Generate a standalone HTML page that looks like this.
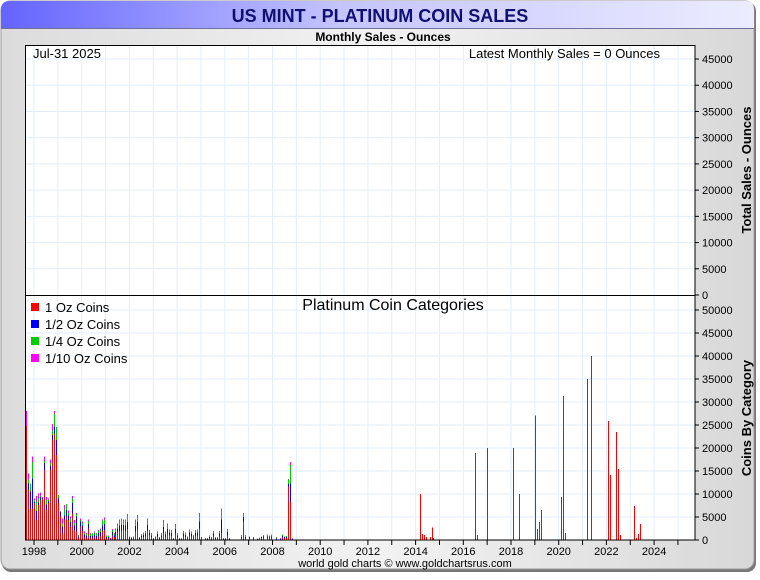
<!DOCTYPE html>
<html><head><meta charset="utf-8">
<style>
body{margin:0;width:760px;height:575px;overflow:hidden;background:#fff;font-family:"Liberation Sans",sans-serif;}
</style></head>
<body>
<svg id="chart" width="760" height="575" xmlns="http://www.w3.org/2000/svg" font-family="Liberation Sans, sans-serif">
<defs>
<linearGradient id="bg" x1="0" x2="1" y1="0" y2="0"><stop offset="0" stop-color="#dcdcdc"/><stop offset="0.5" stop-color="#f2f2f2"/><stop offset="1" stop-color="#d8d8d8"/></linearGradient>
<linearGradient id="tb" x1="0" x2="1" y1="0" y2="0"><stop offset="0" stop-color="#6464ff"/><stop offset="0.45" stop-color="#c4c4ff"/><stop offset="1" stop-color="#ececff"/></linearGradient>
</defs>
<rect x="2" y="2" width="754" height="570" rx="9" fill="#777"/>
<rect x="1" y="1" width="753" height="568" rx="9" fill="url(#bg)" stroke="#9a9a9a"/>
<path d="M1,28 L1,10 Q1,1 10,1 L745,1 Q754,1 754,10 L754,28 Z" fill="url(#tb)"/>
<line x1="1" y1="28.5" x2="754" y2="28.5" stroke="#7070a0"/>
<text x="380" y="22" text-anchor="middle" font-size="18" font-weight="bold" fill="#101070">US MINT - PLATINUM COIN SALES</text>
<text x="383" y="41" text-anchor="middle" font-size="12" font-weight="bold" fill="#000">Monthly Sales - Ounces</text>
<rect x="25" y="45" width="670" height="495" fill="#fff"/>
<g id="grid"></g>
<g id="bars" shape-rendering="crispEdges"></g>
<rect x="25.5" y="45.5" width="669.5" height="494.5" fill="none" stroke="#000"/>
<line x1="25" y1="295.5" x2="695" y2="295.5" stroke="#000"/>
<g id="axes"></g>
<text x="33" y="58" font-size="13">Jul-31  2025</text>
<text x="660" y="58" text-anchor="end" font-size="13">Latest Monthly Sales = 0 Ounces</text>
<text x="393" y="310" text-anchor="middle" font-size="16">Platinum Coin Categories</text>
<g>
<rect x="31" y="303" width="8" height="8" fill="#f00"/><text x="45" y="312" font-size="13">1 Oz Coins</text>
<rect x="31" y="320" width="8" height="8" fill="#00f"/><text x="45" y="329" font-size="13">1/2 Oz Coins</text>
<rect x="31" y="337" width="8" height="8" fill="#0c0"/><text x="45" y="346" font-size="13">1/4 Oz Coins</text>
<rect x="31" y="354" width="8" height="8" fill="#f0f"/><text x="45" y="363" font-size="13">1/10 Oz Coins</text>
</g>
<text transform="translate(751,170) rotate(-90)" text-anchor="middle" font-size="13" font-weight="bold">Total Sales - Ounces</text>
<text transform="translate(751,418) rotate(-90)" text-anchor="middle" font-size="13" font-weight="bold">Coins By Category</text>
<text x="405" y="567" text-anchor="middle" font-size="11">world gold charts © www.goldchartsrus.com</text>
</svg>
<script>
// months since Jan 1998 (0 = Jan 1998); values in thousands of coins
const monthIdx = [-4,-3,-2,-1,0,1,2,3,4,5,6,7,8,9,10,11,12,13,14,15,16,17,18,19,20,21,22,23,24,25,26,27,
28,29,30,31,32,33,34,35,36,37,38,39,40,41,42,43,44,45,46,47,48,49,50,51,52,53,54,55,56,57,58,59,60,61,62,63,64,65,66,67,68,69,70,71,72,73,74,75,76,77,78,79,80,81,82,83,84,85,86,87,88,89,90,91,92,93,94,95,96,97,98,100,104,105,106,108,110,112,113,114,115,117,118,119,122,124,125,126,127,128,129,130,
194,195,196,197,199,200,201,222,223,228,241,244,252,253,254,255,265,266,267,278,280,289,290,293,294,295,302,303,304,305];
const oz1 = [24.8,10.9,6.7,6.9,8,4.3,7.6,8.7,8.9,15.2,6.5,8,15.2,21.8,23.2,18.5,8,5.1,1.5,4.3,5.1,4.3,2.9,5.8,2.2,1.8,0.4,3,2,0.5,0.4,2.5,
0.3,0.4,0.6,0.3,0.8,0.9,2,2.2,0.3,0.4,0.1,1,0.5,1,1.5,2,2.1,2.2,2,2.4,0.3,0.2,0.3,1.8,2.5,0.2,0.5,0.6,0.8,2,1,0.6,0.1,0.3,0.8,0.2,0.6,1.5,0.7,1.4,1,0.9,0.1,1.4,0.6,0.1,0.1,0.8,0.6,0.3,1,0.8,0.5,0.9,1,2.5,0.3,0,0.1,0.1,0.4,0.3,0.8,0.2,0.3,0.8,1.5,0.1,0.1,1,0.1,0,0.4,4,0.4,0.3,0.3,0.1,0.2,0.4,0.4,0.4,0.5,0.5,0,0,0.5,0.3,0.4,11.6,8.3,0,
10,1.3,1.1,0.6,0.65,2.7,0.4,18.9,1.1,20,20,10,27.1,2.4,3.9,6.5,9.4,31.3,1.5,35,40,25.9,14.1,23.5,15.4,1.1,7.4,0.4,1.3,3.5];
const oz12 = [0,1.4,3.8,6.5,0.3,2,0.5,0.6,0.2,1.5,1.2,0.5,1,1,1.4,3.2,1,1.1,1.4,1,1.4,1,1,2.2,1,3.3,0.4,1,1.2,0.7,0.6,1,
0.6,0.5,0.6,0.6,0.7,0.8,1.2,1.3,0.3,0.3,0.1,0.7,0.5,0.7,1,1.2,1.2,1.1,1.2,1.5,0.2,0.2,0.2,1.2,1.4,0.2,0.4,0.5,0.6,1.3,0.6,0.4,0.1,0.2,0.5,0.2,0.4,1.3,0.5,1,0.6,0.6,0.1,1,0.4,0.1,0.1,0.6,0.5,0.2,0.6,0.5,0.3,0.6,0.6,1.5,0.2,0.15,0.1,0.1,0.3,0.2,0.6,0.2,0.2,0.6,3,0.1,0.1,0.7,0.1,0.15,0.3,1,0.3,0.3,0.2,0.1,0.2,0.3,0.4,0.4,0.3,0.3,0.3,0.2,0.4,0.3,0.3,0.6,4,0.3,
0,0,0,0,0,0,0,0,0,0,0,0,0,0,0,0,0,0,0,0,0,0,0,0,0,0,0,0,0,0];
const oz14 = [0,0.9,1.8,3.6,0.4,2,1,0.4,0,0.5,1,0.3,0.5,1,2.9,2.9,0.8,0,0.7,1.3,1.3,0.6,0.8,1,0.5,0.5,0.2,0.4,0.5,0.3,0.3,0.6,
0.5,0.5,0.5,0.5,0.5,0.6,1,1,0.3,0.3,0.1,0.5,0.4,0.6,0.8,0.9,1,0.8,0.9,1.2,0.2,0.2,0.2,1,1,0.2,0.3,0.4,0.5,1,0.5,0.4,0.1,0.2,0.4,0.2,0.4,1,0.4,0.9,0.5,0.5,0.1,0.8,0.4,0.1,0.1,0.5,0.4,0.2,0.5,0.4,0.2,0.5,0.5,1.2,0.2,0,0.1,0.1,0.3,0.1,0.5,0.2,0.1,0.5,1.7,0.1,0.1,0.5,0.1,0,0.3,0.6,0.3,0.2,0.2,0.1,0.1,0.1,0.3,0.3,0.2,0.3,0.3,0.1,0.3,0.2,0.2,0.9,4,0,
0,0,0,0,0,0,0,0,0,0,0,0,0,0,0,0,0,0,0,0,0,0,0,0,0,0,0,0,0,0];
const oz110 = [3.2,1.3,0,1.1,0.3,1.3,1,0.6,0.3,0.9,0.6,0.2,0.8,1.4,0.5,0,0,0,1.1,1,0,0.5,0.4,0.6,0.6,0.3,0.1,0.3,0.3,0.3,0.2,0.4,
0.1,0.1,0.1,0.1,0.2,0.2,0.3,0.4,0.1,0,0.1,0.2,0.1,0.2,0.3,0.4,0.4,0.4,0.4,0.6,0.1,0.1,0.1,0.5,0.5,0.1,0.1,0.1,0.1,0.4,0.1,0.1,0.1,0.1,0.1,0.1,0.1,0.5,0.2,0.3,0.2,0.2,0.1,0.3,0.1,0.1,0.1,0.1,0.1,0.1,0.2,0.1,0.1,0.2,0.2,0.7,0,0,0.1,0.1,0,0.1,0.1,0,0,0.1,0.7,0.1,0.1,0.2,0.1,0,0.1,0.3,0.1,0,0,0,0,0,0,0.1,0,0.1,0.1,0.1,0,0,0,0.2,0.7,0,
0,0,0,0,0,0,0,0,0,0,0,0,0,0,0,0,0,0,0,0,0,0,0,0,0,0,0,0,0,0];
const lowerTicks = [0,5000,10000,15000,20000,25000,30000,35000,40000,45000,50000];
const upperTicks = [0,5000,10000,15000,20000,25000,30000,35000,40000,45000];
const yearLabels = [1998,2000,2002,2004,2006,2008,2010,2012,2014,2016,2018,2020,2022,2024];

const NS='http://www.w3.org/2000/svg';
const X0=34, PER_YEAR=23.85;
function xYear(y){return X0+(y-1998)*PER_YEAR;}
function xMonth(i){return X0+i*PER_YEAR/12;}
function yLow(v){return 540-v*230/50000;}
function yUp(v){return 295-v*236/45000;}
function mk(tag,attrs,parent){const e=document.createElementNS(NS,tag);for(const k in attrs)e.setAttribute(k,attrs[k]);parent.appendChild(e);return e;}
const grid=document.getElementById('grid'),bars=document.getElementById('bars'),axes=document.getElementById('axes');
for(let y=1998;y<=2025;y++){const x=xYear(y);if(x>25&&x<695){const l=mk('line',{x1:x,x2:x,y1:45,y2:540,stroke:'#e3eef8','stroke-width':1},grid);

}
const t=mk('line',{x1:x,x2:x,y1:540,y2:545,stroke:'#000'},axes);

}
lowerTicks.forEach(v=>{const y=yLow(v);if(v>0){const l=mk('line',{x1:25,x2:695,y1:y,y2:y,stroke:'#e3eef8'},grid);

}
const t=mk('line',{x1:695,x2:699,y1:y,y2:y,stroke:'#000'},axes);


const tx=mk('text',{x:702,y:y+4,'font-size':11},axes);tx.textContent=v;

});
upperTicks.forEach(v=>{const y=yUp(v);if(v>0){const l=mk('line',{x1:25,x2:695,y1:y,y2:y,stroke:'#e3eef8'},grid);

}
const t=mk('line',{x1:695,x2:699,y1:y,y2:y,stroke:'#000'},axes);


const tx=mk('text',{x:702,y:y+4,'font-size':11},axes);tx.textContent=v;

});
yearLabels.forEach(yr=>{const tx=mk('text',{x:xYear(yr),y:555,'font-size':11,'text-anchor':'middle'},axes);tx.textContent=yr;

});
const series=[[oz1,'#ff0000'],[oz12,'#0000ff'],[oz14,'#00cc00'],[oz110,'#ff00ff']];
monthIdx.forEach((m,i)=>{let base=0;const x=Math.round(xMonth(m));
series.forEach(([arr,col])=>{const v=arr[i]*1000;if(v<=0)return;
const y1=yLow(base+v),y0=yLow(base);
const r=mk('rect',{x:x,y:y1,width:1,height:Math.max(0.6,y0-y1),fill:col},bars);


base+=v;});});
</script>
</body></html>
